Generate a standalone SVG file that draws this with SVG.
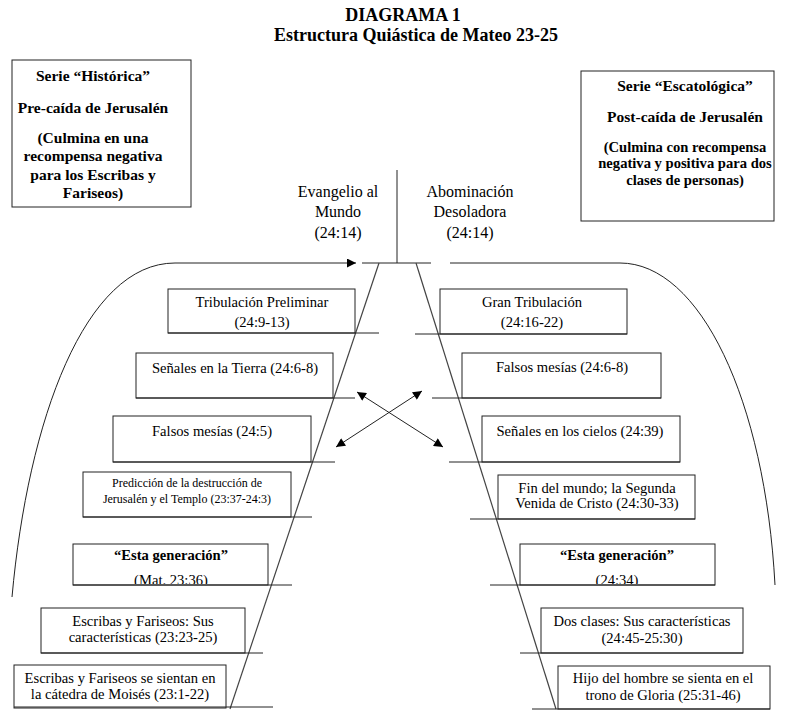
<svg xmlns="http://www.w3.org/2000/svg" width="786" height="710" viewBox="0 0 786 710">
<style>
text{font-family:"Liberation Serif","Times New Roman",serif;fill:#000;text-anchor:middle}
.t{font-size:18px;font-weight:bold}
.h{font-size:15.5px;font-weight:bold}
.hs{font-size:14.6px;font-weight:bold}
.n{font-size:14.6px}
.s{font-size:12px}
.l{font-size:16px}
.b{fill:#fff;stroke:#222;stroke-width:1}
.ln{fill:none;stroke:#222;stroke-width:1}
.d{fill:none;stroke:#444;stroke-width:1.2}
</style>
<defs>
<marker id="ah" viewBox="0 0 10 10" refX="10" refY="5" markerWidth="11" markerHeight="9" markerUnits="userSpaceOnUse" orient="auto-start-reverse">
<path d="M0,0 L10,5 L0,10 z" fill="#000"/>
</marker>
<clipPath id="c1"><rect x="0" y="0" width="786" height="584"/></clipPath>
</defs>
<rect width="786" height="710" fill="#fff"/>
<g id="title">
<text class="t" x="403" y="21">DIAGRAMA 1</text>
<text class="t" x="416" y="41">Estructura Quiástica de Mateo 23-25</text>
</g>
<g id="serie-historica">
<rect class="b" x="12" y="60" width="179" height="147"/>
<text class="h" x="93" y="81">Serie “Histórica”</text>
<text class="h" x="93" y="113">Pre-caída de Jerusalén</text>
<text class="h" x="93" y="143">(Culmina en una</text>
<text class="h" x="93" y="161">recompensa negativa</text>
<text class="h" x="93" y="180">para los Escribas y</text>
<text class="h" x="93" y="198">Fariseos)</text>
</g>
<g id="serie-escatologica">
<rect class="b" x="581" y="71" width="193" height="150"/>
<text class="h" x="685" y="91">Serie “Escatológica”</text>
<text class="h" x="685" y="122">Post-caída de Jerusalén</text>
<text class="hs" x="685" y="152">(Culmina con recompensa</text>
<text class="hs" x="685" y="168">negativa y positiva para dos</text>
<text class="hs" x="685" y="185">clases de personas)</text>
</g>
<g id="evangelio">
<text class="l" x="338" y="197">Evangelio al</text>
<text class="l" x="338" y="217">Mundo</text>
<text class="l" x="338" y="238">(24:14)</text>
</g>
<g id="abominacion">
<text class="l" x="470" y="197">Abominación</text>
<text class="l" x="470" y="217">Desoladora</text>
<text class="l" x="470" y="238">(24:14)</text>
</g>
<g id="connectors">
<line class="ln" x1="397" y1="170" x2="397" y2="263"/>
<line class="ln" x1="362" y1="263" x2="431" y2="263"/>
<path class="ln" d="M12,597 C28,420 85,263 175,263 L356,263" marker-end="url(#ah)"/>
<path class="ln" d="M450,263 L620,263 C700,263 765,400 775,585"/>
<line class="d" x1="379" y1="263" x2="230" y2="709"/>
<line class="d" x1="416" y1="263" x2="556" y2="709"/>
<line class="ln" x1="357" y1="392" x2="443" y2="447" marker-start="url(#ah)" marker-end="url(#ah)"/>
<line class="ln" x1="422" y1="391" x2="336" y2="447" marker-start="url(#ah)" marker-end="url(#ah)"/>
</g>
<g id="tribulacion-preliminar">
<rect class="b" x="168" y="289" width="187" height="44"/>
<line class="ln" x1="168" y1="333" x2="379" y2="333"/>
<text class="n" x="262" y="307">Tribulación Preliminar</text>
<text class="n" x="262" y="327">(24:9-13)</text>
</g>
<g id="senales-tierra">
<rect class="b" x="136" y="353" width="197" height="45"/>
<line class="ln" x1="136" y1="398" x2="355" y2="398"/>
<text class="n" x="235" y="373">Señales en la Tierra (24:6-8)</text>
</g>
<g id="falsos-mesias-l">
<rect class="b" x="113" y="416" width="198" height="46"/>
<line class="ln" x1="113" y1="462" x2="335" y2="462"/>
<text class="n" x="212" y="436">Falsos mesías (24:5)</text>
</g>
<g id="prediccion">
<rect class="b" x="83" y="472" width="208" height="45"/>
<line class="ln" x1="83" y1="517" x2="312" y2="517"/>
<text class="s" x="187" y="487">Predicción de la destrucción de</text>
<text class="s" x="187" y="503">Jerusalén y el Templo (23:37-24:3)</text>
</g>
<g id="esta-generacion-l">
<rect class="b" x="73" y="544" width="195" height="41"/>
<line class="ln" x1="73" y1="585" x2="292" y2="585"/>
<text class="n" x="171" y="560" font-weight="bold">“Esta generación”</text>
<text class="n" x="171" y="585" clip-path="url(#c1)">(Mat. 23:36)</text>
</g>
<g id="escribas-caracteristicas">
<rect class="b" x="41" y="608" width="204" height="45"/>
<line class="ln" x1="41" y1="653" x2="263" y2="653"/>
<text class="n" x="143" y="626">Escribas y Fariseos: Sus</text>
<text class="n" x="143" y="642">características (23:23-25)</text>
</g>
<g id="escribas-catedra">
<rect class="b" x="14" y="665" width="212" height="43"/>
<line class="ln" x1="14" y1="707" x2="273" y2="707"/>
<text class="n" x="120" y="683">Escribas y Fariseos se sientan en</text>
<text class="n" x="120" y="699">la cátedra de Moisés (23:1-22)</text>
</g>
<g id="gran-tribulacion">
<rect class="b" x="440" y="289" width="187" height="45"/>
<line class="ln" x1="415" y1="334" x2="627" y2="334"/>
<text class="n" x="532" y="307">Gran Tribulación</text>
<text class="n" x="532" y="327">(24:16-22)</text>
</g>
<g id="falsos-mesias-r">
<rect class="b" x="462" y="353" width="199" height="45"/>
<line class="ln" x1="432" y1="398" x2="661" y2="398"/>
<text class="n" x="562" y="372">Falsos mesías (24:6-8)</text>
</g>
<g id="senales-cielos">
<rect class="b" x="482" y="416" width="198" height="46"/>
<line class="ln" x1="449" y1="462" x2="680" y2="462"/>
<text class="n" x="580" y="436">Señales en los cielos (24:39)</text>
</g>
<g id="fin-del-mundo">
<rect class="b" x="498" y="475" width="197" height="44"/>
<line class="ln" x1="470" y1="519" x2="695" y2="519"/>
<text class="n" x="597" y="493">Fin del mundo; la Segunda</text>
<text class="n" x="597" y="508">Venida de Cristo (24:30-33)</text>
</g>
<g id="esta-generacion-r">
<rect class="b" x="520" y="544" width="195" height="41"/>
<line class="ln" x1="490" y1="585" x2="715" y2="585"/>
<text class="n" x="617" y="560" font-weight="bold">“Esta generación”</text>
<text class="n" x="617" y="585" clip-path="url(#c1)">(24:34)</text>
</g>
<g id="dos-clases">
<rect class="b" x="541" y="608" width="202" height="45"/>
<line class="ln" x1="520" y1="653" x2="743" y2="653"/>
<text class="n" x="642" y="626">Dos clases: Sus características</text>
<text class="n" x="642" y="643">(24:45-25:30)</text>
</g>
<g id="hijo-del-hombre">
<rect class="b" x="558" y="666" width="212" height="43"/>
<line class="ln" x1="532" y1="709" x2="770" y2="709"/>
<text class="n" x="663" y="683">Hijo del hombre se sienta en el</text>
<text class="n" x="663" y="700">trono de Gloria (25:31-46)</text>
</g>
</svg>
